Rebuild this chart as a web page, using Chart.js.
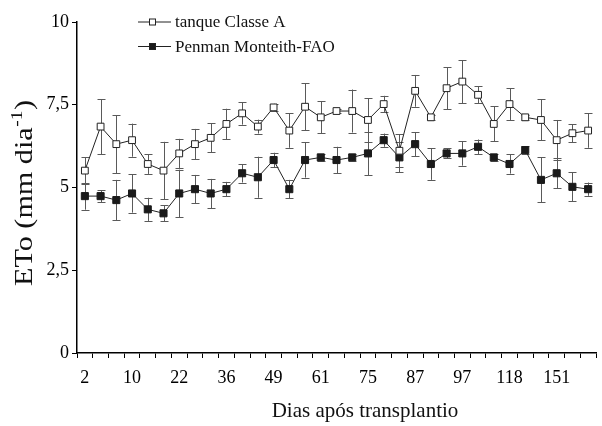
<!DOCTYPE html>
<html>
<head>
<meta charset="utf-8">
<script src="https://cdn.jsdelivr.net/npm/chart.js@4.4.1/dist/chart.umd.min.js"></script>
<style>
  html, body { margin: 0; padding: 0; background: #fff; }
  #wrap { width: 602px; height: 426px; }
</style>
</head>
<body>
<div id="wrap"><canvas id="c" width="602" height="426"></canvas></div>
<script>
// Category tick labels (only every third sample is labelled on the axis)
const tickLabels = ['2','','','10','','','22','','','36','','','49','','','61','','','75','','','87','','','97','','','118','','','151','',''];

// tanque Classe A (open squares)
const tanqueValues = [5.51,6.84,6.31,6.43,5.71,5.51,6.03,6.31,6.50,6.92,7.24,6.84,7.42,6.72,7.44,7.12,7.31,7.31,7.04,7.52,6.11,7.92,7.12,8.00,8.20,7.80,6.92,7.52,7.12,7.04,6.43,6.64,6.72];
const tanqueErrors = [0.41,0.83,0.88,0.50,0.30,0.87,0.44,0.46,0.44,0.46,0.34,0.21,0.11,0.52,0.71,0.48,0.05,0.65,0.66,0.25,0.50,0.48,0.08,0.63,0.65,0.26,0.53,0.48,0.08,0.62,0.61,0.27,0.52];

// Penman Monteith-FAO (filled squares)
const pmValues = [4.74,4.74,4.62,4.82,4.34,4.22,4.82,4.95,4.82,4.95,5.43,5.31,5.83,4.95,5.83,5.91,5.83,5.91,6.03,6.43,5.91,6.31,5.71,6.03,6.03,6.23,5.91,5.71,6.13,5.23,5.43,5.02,4.95];
const pmErrors = [0.41,0.18,0.61,0.58,0.35,0.24,0.72,0.43,0.44,0.22,0.28,0.62,0.22,0.28,0.53,0.10,0.40,0.10,0.66,0.20,0.45,0.36,0.48,0.15,0.37,0.22,0.10,0.29,0.12,0.68,0.45,0.44,0.20];

const yTicks = [0, 2.5, 5, 7.5, 10];

const xTitle = 'Dias após transplantio';
const yTitleParts = ['ETo (mm dia', '-1', ')'];

const FONT = "'Liberation Serif', 'Times New Roman', serif";

const errorBarsPlugin = {
  id: 'errorBars',
  beforeDatasetsDraw(chart) {
    const { ctx } = chart;
    const yScale = chart.scales.y;
    ctx.save();
    ctx.strokeStyle = '#5a5a5a';
    ctx.lineWidth = 1;
    chart.data.datasets.forEach((ds, di) => {
      const meta = chart.getDatasetMeta(di);
      ds.errors.forEach((e, i) => {
        const pt = meta.data[i];
        if (!pt) return;
        const x = Math.round(pt.x) + 0.5;
        const yTop = yScale.getPixelForValue(ds.data[i] + e);
        const yBot = yScale.getPixelForValue(ds.data[i] - e);
        ctx.beginPath();
        ctx.moveTo(x, yTop); ctx.lineTo(x, yBot);
        ctx.moveTo(x - 4, Math.round(yTop) + 0.5); ctx.lineTo(x + 4, Math.round(yTop) + 0.5);
        ctx.moveTo(x - 4, Math.round(yBot) + 0.5); ctx.lineTo(x + 4, Math.round(yBot) + 0.5);
        ctx.stroke();
      });
    });
    ctx.restore();
  }
};

const legendPlugin = {
  id: 'customLegend',
  afterDraw(chart) {
    const { ctx } = chart;
    ctx.save();
    const rows = [22, 46.5];
    chart.data.datasets.forEach((ds, i) => {
      const y = rows[i];
      ctx.strokeStyle = '#222';
      ctx.lineWidth = 1;
      ctx.beginPath();
      ctx.moveTo(138, y); ctx.lineTo(171, y);
      ctx.stroke();
      ctx.fillStyle = ds.pointBackgroundColor;
      ctx.fillRect(149.5, y - 3, 6, 6);
      ctx.strokeRect(149.5, y - 3, 6, 6);
      ctx.fillStyle = '#111';
      ctx.font = "17px " + FONT;
      ctx.textBaseline = 'middle';
      ctx.textAlign = 'left';
      ctx.fillText(ds.label, 175, y + 1);
    });
    ctx.restore();
  }
};

const titlesPlugin = {
  id: 'axisTitles',
  afterDraw(chart) {
    const { ctx } = chart;
    ctx.save();
    ctx.fillStyle = '#111';
    // x title
    ctx.font = "21px " + FONT;
    ctx.textAlign = 'center';
    ctx.textBaseline = 'alphabetic';
    ctx.fillText(xTitle, 365, 417);
    // y title with superscript
    const mainFont = "25px " + FONT;
    const supFont = "16px " + FONT;
    ctx.font = mainFont;
    const w1 = ctx.measureText(yTitleParts[0]).width;
    const w3 = ctx.measureText(yTitleParts[2]).width;
    ctx.font = supFont;
    const w2 = ctx.measureText(yTitleParts[1]).width + 1;
    const total = w1 + w2 + w3;
    const target = 186;
    ctx.translate(32, 193);
    ctx.rotate(-Math.PI / 2);
    ctx.scale(target / total, 1);
    ctx.textAlign = 'left';
    let x0 = -total / 2;
    ctx.font = mainFont;
    ctx.fillText(yTitleParts[0], x0, 0);
    ctx.font = supFont;
    ctx.fillText(yTitleParts[1], x0 + w1 + 0.5, -10);
    ctx.font = mainFont;
    ctx.fillText(yTitleParts[2], x0 + w1 + w2, 0);
    ctx.restore();
  }
};

new Chart(document.getElementById('c'), {
  type: 'line',
  data: {
    labels: tickLabels,
    datasets: [
      {
        label: 'tanque Classe A',
        data: tanqueValues,
        errors: tanqueErrors,
        borderColor: '#222',
        borderWidth: 1,
        pointStyle: 'rect',
        pointRadius: 4.8,
        pointBackgroundColor: '#ffffff',
        pointBorderColor: '#222',
        pointBorderWidth: 1,
        tension: 0
      },
      {
        label: 'Penman Monteith-FAO',
        data: pmValues,
        errors: pmErrors,
        borderColor: '#222',
        borderWidth: 1,
        pointStyle: 'rect',
        pointRadius: 5,
        pointBackgroundColor: '#1a1a1a',
        pointBorderColor: '#1a1a1a',
        pointBorderWidth: 1,
        tension: 0
      }
    ]
  },
  options: {
    responsive: false,
    animation: false,
    layout: { padding: { left: 0, right: 2, top: 22, bottom: 0 } },
    plugins: { legend: { display: false }, tooltip: { enabled: false } },
    scales: {
      x: {
        type: 'category',
        offset: true,
        grid: { offset: true, drawOnChartArea: false, drawTicks: true, tickLength: 5, color: '#000', lineWidth: 1 },
        border: { display: true, color: '#000', width: 1.5 },
        ticks: {
          autoSkip: false, maxRotation: 0, minRotation: 0, padding: 9,
          color: '#000', font: { family: FONT, size: 18 },
          callback: (v, i) => tickLabels[i]
        },
        title: { display: false },
        afterFit: (s) => { s.height = 73; }
      },
      y: {
        min: 0, max: 10,
        afterBuildTicks: (s) => { s.ticks = yTicks.map(v => ({ value: v })); },
        grid: { drawOnChartArea: false, drawTicks: true, tickLength: 5, color: '#000', lineWidth: 1 },
        border: { display: true, color: '#000', width: 1.5 },
        ticks: {
          padding: 3, color: '#000', font: { family: FONT, size: 18 },
          callback: (v) => String(v).replace('.', ',')
        },
        title: { display: false },
        afterFit: (s) => { s.width = 77; }
      }
    }
  },
  plugins: [errorBarsPlugin, legendPlugin, titlesPlugin]
});
</script>
</body>
</html>
